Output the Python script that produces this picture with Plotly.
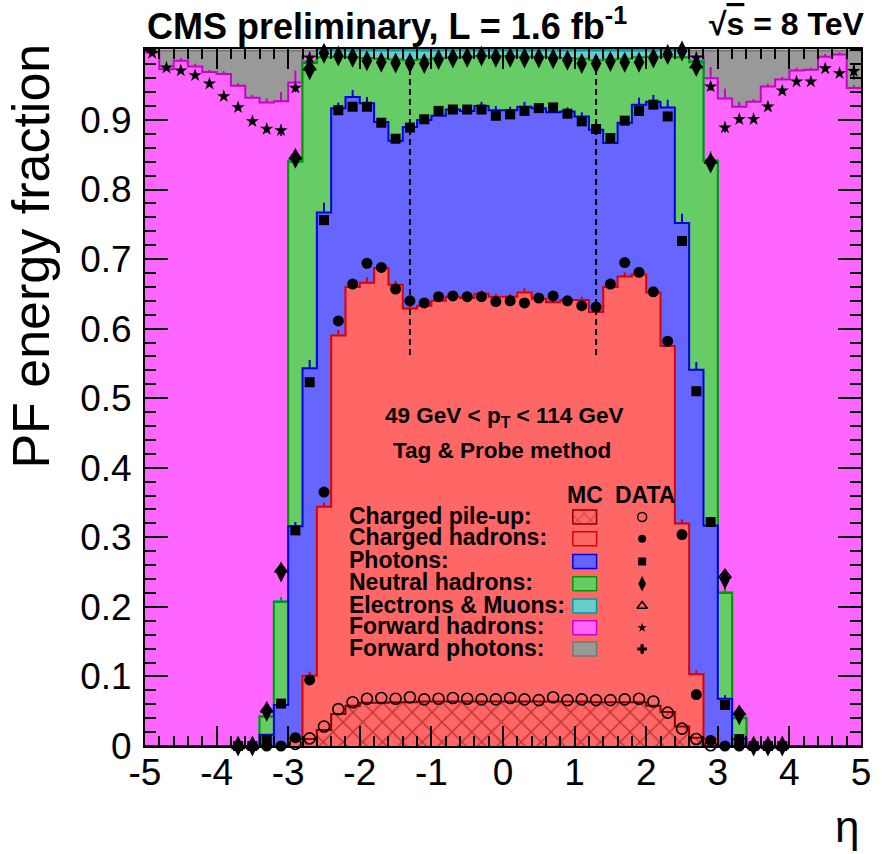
import plotly.graph_objects as go

# ---------------- binning (50 bins of width 0.2 in eta) ----------------
BIN_WIDTH = 0.2
eta_edges = [round(-5.0 + BIN_WIDTH * k, 1) for k in range(51)]
eta_centers = [round(-4.9 + BIN_WIDTH * k, 1) for k in range(50)]

# ---------------- MC: cumulative stack tops ----------------
mc_cum_pileup = [
    0, 0, 0, 0, 0, 0, 0, 0, 0, 0,
    0.010, 0.010, 0.023, 0.046, 0.058, 0.062, 0.062, 0.063, 0.063, 0.064,
    0.064, 0.064, 0.064, 0.064, 0.064, 0.064, 0.064, 0.064, 0.064, 0.064,
    0.064, 0.063, 0.063, 0.063, 0.063, 0.058, 0.049, 0.028, 0.012, 0.000,
    0, 0, 0, 0, 0, 0, 0, 0, 0, 0]
mc_cum_charged = [
    0, 0, 0, 0, 0, 0, 0, 0, 0, 0,
    0.012, 0.101, 0.344, 0.590, 0.660, 0.666, 0.687, 0.663, 0.629, 0.633,
    0.640, 0.646, 0.644, 0.650, 0.646, 0.646, 0.652, 0.643, 0.638, 0.641,
    0.641, 0.624, 0.660, 0.675, 0.678, 0.652, 0.575, 0.320, 0.103, 0.010,
    0, 0, 0, 0, 0, 0, 0, 0, 0, 0]
mc_cum_photons = [
    0, 0, 0, 0, 0, 0, 0, 0, 0.016, 0.059,
    0.316, 0.543, 0.767, 0.917, 0.933, 0.924, 0.897, 0.870, 0.890, 0.900,
    0.906, 0.915, 0.913, 0.920, 0.914, 0.914, 0.919, 0.917, 0.911, 0.912,
    0.905, 0.886, 0.867, 0.896, 0.922, 0.926, 0.918, 0.752, 0.541, 0.317,
    0.068, 0.010, 0, 0, 0, 0, 0, 0, 0, 0]
mc_cum_neutral = [
    0, 0, 0, 0, 0, 0, 0, 0, 0.042, 0.207,
    0.840, 0.982, 0.990, 0.991, 0.990, 0.989, 0.988, 0.987, 0.986, 0.987,
    0.989, 0.990, 0.991, 0.992, 0.992, 0.992, 0.991, 0.991, 0.990, 0.989,
    0.988, 0.986, 0.987, 0.988, 0.990, 0.991, 0.991, 0.990, 0.983, 0.841,
    0.220, 0.040, 0, 0, 0, 0, 0, 0, 0, 0]
mc_cum_lepton = [
    0, 0, 0, 0, 0, 0, 0, 0, 0.043, 0.208,
    0.841, 0.984, 1.0, 1.0, 1.0, 1.0, 1.0, 1.0, 1.0, 1.0,
    1.0, 1.0, 1.0, 1.0, 1.0, 1.0, 1.0, 1.0, 1.0, 1.0,
    1.0, 1.0, 1.0, 1.0, 1.0, 1.0, 1.0, 1.0, 0.985, 0.842,
    0.221, 0.041, 0, 0, 0, 0, 0, 0, 0, 0]
mc_cum_fwdhad = [
    0.997, 0.973, 0.985, 0.977, 0.969, 0.966, 0.949, 0.932, 0.925, 0.927,
    0.954, 0.992, 1.0, 1.0, 1.0, 1.0, 1.0, 1.0, 1.0, 1.0,
    1.0, 1.0, 1.0, 1.0, 1.0, 1.0, 1.0, 1.0, 1.0, 1.0,
    1.0, 1.0, 1.0, 1.0, 1.0, 1.0, 1.0, 1.0, 0.992, 0.960,
    0.931, 0.919, 0.926, 0.948, 0.958, 0.971, 0.972, 0.991, 0.994, 0.946]
mc_cum_fwdpho = [
    1.0, 1.0, 1.0, 1.0, 1.0, 1.0, 1.0, 1.0, 1.0, 1.0,
    1.0, 1.0, 1.0, 1.0, 1.0, 1.0, 1.0, 1.0, 1.0, 1.0,
    1.0, 1.0, 1.0, 1.0, 1.0, 1.0, 1.0, 1.0, 1.0, 1.0,
    1.0, 1.0, 1.0, 1.0, 1.0, 1.0, 1.0, 1.0, 1.0, 1.0,
    1.0, 1.0, 1.0, 1.0, 1.0, 1.0, 1.0, 1.0, 1.0, 1.0]

# MC statistical uncertainties (upward ticks)
mc_err_charged = [
    0, 0, 0, 0, 0, 0, 0, 0, 0, 0,
    0, 0.006, 0.006, 0.008, 0.005, 0.008, 0.005, 0.006, 0.004, 0.004,
    0.004, 0.004, 0.004, 0.005, 0.004, 0.004, 0.006, 0.004, 0.004, 0.004,
    0.005, 0.004, 0.004, 0.006, 0.005, 0.005, 0.006, 0.006, 0.006, 0,
    0, 0, 0, 0, 0, 0, 0, 0, 0, 0]
mc_err_photons = [
    0, 0, 0, 0, 0, 0, 0, 0, 0, 0.005,
    0.006, 0.012, 0.014, 0.008, 0.010, 0.009, 0.006, 0.005, 0.005, 0.005,
    0.005, 0.005, 0.005, 0.006, 0.006, 0.005, 0.007, 0.005, 0.005, 0.006,
    0.006, 0.008, 0.005, 0.006, 0.010, 0.010, 0.011, 0.013, 0.011, 0.006,
    0.005, 0, 0, 0, 0, 0, 0, 0, 0, 0]
mc_err_neutral = [
    0, 0, 0, 0, 0, 0, 0, 0, 0.009, 0.007,
    0.014, 0, 0, 0, 0, 0, 0, 0, 0, 0,
    0, 0, 0, 0, 0, 0, 0, 0, 0, 0,
    0, 0, 0, 0, 0, 0, 0, 0, 0, 0.014,
    0.007, 0.008, 0, 0, 0, 0, 0, 0, 0, 0]
mc_err_fwdhad = [
    0.003, 0.004, 0.004, 0.004, 0.003, 0.004, 0.004, 0.004, 0.006, 0.013,
    0.017, 0.006, 0, 0, 0, 0, 0, 0, 0, 0,
    0, 0, 0, 0, 0, 0, 0, 0, 0, 0,
    0, 0, 0, 0, 0, 0, 0, 0, 0.006, 0.016,
    0.014, 0.007, 0.004, 0.004, 0.004, 0.004, 0.003, 0.004, 0.003, 0.004]

# ---------------- DATA: cumulative fractions ----------------
N = None
dt_cum_pileup = [
    N, N, N, N, N, N, N, N, N, N,
    0.003, 0.011, 0.028, 0.053, 0.063, 0.068, 0.069, 0.068, 0.070, 0.067,
    0.068, 0.069, 0.068, 0.067, 0.067, 0.069, 0.067, 0.066, 0.070, 0.066,
    0.067, 0.066, 0.066, 0.067, 0.068, 0.064, 0.048, 0.025, 0.010, 0.001,
    N, N, N, N, N, N, N, N, N, N]
dt_cum_charged = [
    N, N, N, N, N, N, 0, 0, 0, 0,
    0.012, 0.095, 0.365, 0.611, 0.664, 0.694, 0.688, 0.657, 0.640, 0.637,
    0.646, 0.647, 0.646, 0.646, 0.639, 0.640, 0.637, 0.644, 0.647, 0.640,
    0.633, 0.631, 0.664, 0.695, 0.681, 0.653, 0.582, 0.304, 0.074, 0.008,
    0, 0, 0, 0, 0, N, N, N, N, N]
dt_cum_photons = [
    N, N, N, N, N, N, 0, 0, 0.009, 0.061,
    0.310, 0.523, 0.756, 0.914, 0.919, 0.919, 0.896, 0.873, 0.889, 0.901,
    0.913, 0.915, 0.915, 0.915, 0.906, 0.908, 0.913, 0.917, 0.918, 0.909,
    0.898, 0.887, 0.874, 0.899, 0.913, 0.922, 0.905, 0.726, 0.510, 0.322,
    0.059, 0.010, 0, 0, 0, N, N, N, N, N]
dt_cum_neutral = [
    N, N, N, N, N, N, 0, 0, 0.050, 0.250,
    0.845, 0.972, 0.996, 0.992, 0.990, 0.985, 0.983, 0.982, 0.982, 0.981,
    0.987, 0.989, 0.990, 0.992, 0.990, 0.990, 0.989, 0.989, 0.988, 0.986,
    0.981, 0.981, 0.984, 0.983, 0.983, 0.989, 0.994, 0.999, 0.977, 0.838,
    0.240, 0.045, 0, 0, 0, N, N, N, N, N]
dt_cum_lepton = [
    N, N, N, N, N, N, 0, 0, 0.053, 0.254,
    0.848, 0.976, N, N, N, N, N, N, N, N,
    N, N, N, N, N, N, N, N, N, N,
    N, N, N, N, N, N, N, N, 0.979, 0.842,
    0.246, 0.049, 0, 0, 0, N, N, N, N, N]
dt_cum_fwdhad = [
    0.996, 0.975, 0.971, 0.964, 0.952, 0.934, 0.918, 0.898, 0.887, 0.885,
    0.946, 0.989, N, N, N, N, N, N, N, N,
    N, N, N, N, N, N, N, N, N, N,
    N, N, N, N, N, N, N, N, 0.989, 0.948,
    0.889, 0.901, 0.901, 0.919, 0.942, 0.955, 0.955, 0.974, 0.967, 0.970]
dt_err_fwdhad = [
    0.003, 0.003, 0.003, 0.003, 0.003, 0.003, 0.004, 0.004, 0.005, 0.008,
    0.006, 0.004, 0, 0, 0, 0, 0, 0, 0, 0,
    0, 0, 0, 0, 0, 0, 0, 0, 0, 0,
    0, 0, 0, 0, 0, 0, 0, 0, 0.004, 0.006,
    0.007, 0.005, 0.004, 0.004, 0.004, 0.003, 0.003, 0.003, 0.003, 0.012]

# tick labels
x_tick_vals = [-5, -4, -3, -2, -1, 0, 1, 2, 3, 4, 5]
x_tick_text = ["-5", "-4", "-3", "-2", "-1", "0", "1", "2", "3", "4", "5"]
y_tick_vals = [0, 0.1, 0.2, 0.3, 0.4, 0.5, 0.6, 0.7, 0.8, 0.9]
y_tick_text = ["0", "0.1", "0.2", "0.3", "0.4", "0.5", "0.6", "0.7", "0.8", "0.9"]

# tracker boundary (dashed lines)
eta_tracker = 1.3
dash_range = (0.562, 0.992)

# ---------------- styles ----------------
FONT = "Liberation Sans, Arial, Helvetica, sans-serif"
st = {
    "fwdpho": dict(fill="#999999", line="#777777"),
    "fwdhad": dict(fill="#ff66ff", line="#cc00cc"),
    "lepton": dict(fill="#66cccc", line="#009999"),
    "neutral": dict(fill="#66cc66", line="#009900"),
    "photons": dict(fill="#6666ff", line="#0000dd"),
    "charged": dict(fill="#ff6666", line="#dd0000"),
    "pileup": dict(fill="#ff6666", line="#8b0000"),
}

fig = go.Figure()


def add_step(vals, key, err=None, pattern=None):
    ys = list(vals) + [vals[-1]]
    kw = {}
    if pattern is not None:
        kw["fillpattern"] = pattern
    fig.add_trace(go.Scatter(
        x=eta_edges, y=ys, mode="lines", line=dict(color=st[key]["line"], width=2, shape="hv"),
        fill="tozeroy", fillcolor=st[key]["fill"], hoverinfo="skip", showlegend=False, **kw))
    if err is not None:
        fig.add_trace(go.Scatter(
            x=eta_centers, y=vals, mode="markers",
            marker=dict(size=1, color="rgba(0,0,0,0)"),
            error_y=dict(type="data", array=err, arrayminus=[0] * len(err), symmetric=False,
                         color=st[key]["line"], thickness=2, width=0),
            hoverinfo="skip", showlegend=False))


add_step(mc_cum_fwdpho, "fwdpho")
add_step(mc_cum_fwdhad, "fwdhad", mc_err_fwdhad)
add_step(mc_cum_lepton, "lepton")
add_step(mc_cum_neutral, "neutral", mc_err_neutral)
add_step(mc_cum_photons, "photons", mc_err_photons)
add_step(mc_cum_charged, "charged", mc_err_charged)
add_step(mc_cum_pileup, "pileup",
         pattern=dict(shape="x", fgcolor="#8b0000", bgcolor="#ff6666", size=14, solidity=0.2))

# dashed tracker-acceptance lines
for xv in (-eta_tracker, eta_tracker):
    fig.add_shape(type="line", x0=xv, x1=xv, y0=dash_range[0], y1=dash_range[1],
                  xref="x", yref="y", line=dict(color="black", width=2, dash="6px,4px"),
                  layer="above")

# data markers
markers = [
    (dt_cum_pileup, dict(symbol="circle-open", size=11, color="black", line=dict(width=1.6, color="black")), None),
    (dt_cum_charged, dict(symbol="circle", size=11, color="black"), None),
    (dt_cum_photons, dict(symbol="square", size=10, color="black"), None),
    (dt_cum_neutral, dict(symbol="diamond-tall", size=15, color="black"), None),
    (dt_cum_lepton, dict(symbol="triangle-up-open", size=11, color="black", line=dict(width=1.6, color="black")), None),
    (dt_cum_fwdhad, dict(symbol="star", size=10, color="black"), dt_err_fwdhad),
]
for vals, mk, err in markers:
    kw = {}
    if err is not None:
        kw["error_y"] = dict(type="data", array=err, color="black", thickness=1.5, width=0)
    fig.add_trace(go.Scatter(x=eta_centers, y=vals, mode="markers", marker=mk,
                             cliponaxis=False, hoverinfo="skip", showlegend=False, **kw))

# ---------------- geometry (page pixels) ----------------
PLOT_L, PLOT_R, PLOT_T, PLOT_B = 145, 868, 49, 746
FIG_W, FIG_H = 883, 854


def fx(px):
    return (px - PLOT_L) / (PLOT_R - PLOT_L)


def fy(py):
    return (PLOT_B - py) / (PLOT_B - PLOT_T)


legend_rows = ["Charged pile-up:", "Charged hadrons:", "Photons:", "Neutral hadrons:",
               "Electrons &amp; Muons:", "Forward hadrons:", "Forward photons:"]
legend_keys = ["pileup", "charged", "photons", "neutral", "lepton", "fwdhad", "fwdpho"]
legend_row_y = [515.5, 537.3, 560.0, 582.2, 604.5, 626.2, 647.5]
legend_markers = [
    dict(symbol="circle-open", size=9, color="black", line=dict(width=1.5, color="black")),
    dict(symbol="circle", size=8, color="black"),
    dict(symbol="square", size=8, color="black"),
    dict(symbol="diamond-tall", size=11, color="black"),
    dict(symbol="triangle-up-open", size=9, color="black", line=dict(width=1.5, color="black")),
    dict(symbol="star", size=7, color="black"),
    dict(symbol="cross", size=8, color="black"),
]
BOX_X0, BOX_X1, BOX_H = 577, 601, 14
MARK_X = 647

for lab, key, ry, mk in zip(legend_rows, legend_keys, legend_row_y, legend_markers):
    cy = ry + 1.5
    x0, x1 = fx(BOX_X0), fx(BOX_X1)
    y0, y1 = fy(cy + BOX_H / 2), fy(cy - BOX_H / 2)
    kw = {}
    if key == "pileup":
        kw["fillpattern"] = dict(shape="x", fgcolor="#8b0000", bgcolor="#ff6666", size=9, solidity=0.18)
    fig.add_trace(go.Scatter(x=[x0, x1, x1, x0, x0], y=[y0, y0, y1, y1, y0], xaxis="x2", yaxis="y2",
                             mode="lines", fill="toself", fillcolor=st[key]["fill"],
                             line=dict(color=st[key]["line"], width=1.5),
                             hoverinfo="skip", showlegend=False, **kw))
    fig.add_trace(go.Scatter(x=[fx(MARK_X)], y=[fy(cy)], xaxis="x2", yaxis="y2", mode="markers",
                             marker=mk, hoverinfo="skip", showlegend=False))
    fig.add_annotation(text="<b>" + lab + "</b>", xref="paper", yref="paper",
                       x=fx(349), y=fy(ry), xanchor="left", yanchor="middle", showarrow=False,
                       font=dict(family=FONT, size=23, color="black"))

texts = [
    ("<b>MC</b>", 589, 494.9, "center", 23),
    ("<b>DATA</b>", 650, 494.9, "center", 23),
    ("<b>49 GeV &lt; p<sub>T</sub> &lt; 114 GeV</b>", 508, 417, "center", 22.5),
    ("<b>Tag &amp; Probe method</b>", 505, 450.5, "center", 22.5),
]
for t, px, py, anc, sz in texts:
    fig.add_annotation(text=t, xref="paper", yref="paper", x=fx(px), y=fy(py),
                       xanchor=anc, yanchor="middle", showarrow=False,
                       font=dict(family=FONT, size=sz, color="black"))

# title line
fig.add_annotation(text="<b>CMS preliminary, L = 1.6 fb<sup>-1</sup></b>", xref="paper", yref="paper",
                   x=0, y=fy(24), xanchor="left", yanchor="middle", showarrow=False,
                   font=dict(family=FONT, size=36, color="black"))
fig.add_annotation(text="<b>\u221a<span style='text-decoration:overline'>s</span> = 8 TeV</b>",
                   xref="paper", yref="paper", x=1, y=fy(24), xanchor="right", yanchor="middle",
                   xshift=5, showarrow=False, font=dict(family=FONT, size=32, color="black"))
# axis titles
fig.add_annotation(text="PF energy fraction", xref="paper", yref="paper", x=fx(29), y=fy(42),
                   xanchor="center", yanchor="top", textangle=-90, showarrow=False,
                   font=dict(family=FONT, size=52, color="black"))
fig.add_annotation(text="\u03b7", xref="paper", yref="paper", x=1, y=fy(853),
                   xanchor="right", yanchor="bottom", showarrow=False,
                   font=dict(family=FONT, size=44, color="black"))

axis_common = dict(showgrid=False, zeroline=False, showline=True, linecolor="black", linewidth=2,
                   mirror="allticks", ticks="inside", tickcolor="black", tickwidth=2,
                   tickfont=dict(family=FONT, size=37, color="black"), layer="above traces")
fig.update_layout(
    width=FIG_W, height=FIG_H,
    margin=dict(l=PLOT_L, r=FIG_W - PLOT_R, t=PLOT_T, b=FIG_H - PLOT_B, pad=0),
    paper_bgcolor="white", plot_bgcolor="white", showlegend=False,
    xaxis=dict(range=[-5, 5], tickmode="array", tickvals=x_tick_vals, ticktext=x_tick_text,
               ticklen=20, ticklabelstandoff=-7,
               minor=dict(tickmode="linear", tick0=0, dtick=0.2, ticks="inside", ticklen=10,
                          tickwidth=2, tickcolor="black"),
               **axis_common),
    yaxis=dict(range=[0, 1.002], tickmode="array", tickvals=y_tick_vals, ticktext=y_tick_text,
               ticklen=23, ticklabelstandoff=4,
               minor=dict(tickmode="linear", tick0=0, dtick=0.02, ticks="inside", ticklen=11,
                          tickwidth=2, tickcolor="black"),
               **axis_common),
    xaxis2=dict(overlaying="x", anchor="y2", range=[0, 1], visible=False, fixedrange=True),
    yaxis2=dict(overlaying="y", anchor="x2", range=[0, 1], visible=False, fixedrange=True),
)

fig.write_html("out.html", config={"displayModeBar": False, "staticPlot": True},
               post_script="document.body.style.margin='0px';")
